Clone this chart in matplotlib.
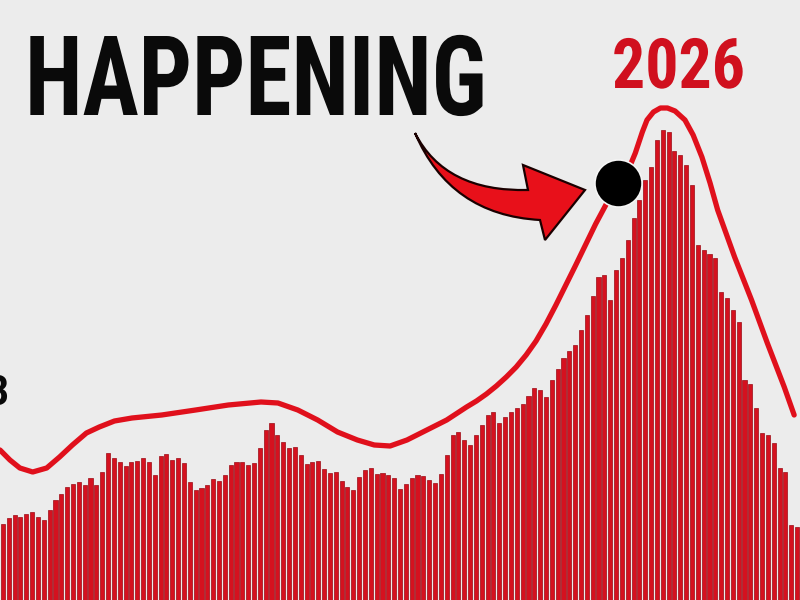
import matplotlib
matplotlib.use("Agg")
import matplotlib.pyplot as plt
from matplotlib import patheffects
from matplotlib.path import Path
from matplotlib.patches import PathPatch
from matplotlib.transforms import Affine2D

# bar heights, one per period
bar_values = [
    76, 82, 85, 83, 86, 88, 83, 80, 90, 100,
    106, 113, 116, 118, 115, 122, 115, 128, 147, 142,
    138, 134, 138, 139, 142, 138, 125, 144, 146, 140,
    142, 137, 118, 110, 112, 115, 121, 119, 125, 135,
    138, 138, 135, 137, 152, 170, 177, 165, 158, 152,
    153, 145, 136, 138, 139, 131, 127, 128, 119, 113,
    110, 123, 130, 132, 126, 127, 125, 122, 111, 116,
    122, 125, 124, 120, 117, 126, 145, 165, 168, 160,
    155, 165, 175, 185, 188, 177, 183, 188, 192, 196,
    204, 212, 210, 203, 220, 231, 242, 249, 255, 270,
    285, 304, 323, 325, 300, 330, 342, 360, 382, 400,
    420, 433, 460, 470, 468, 449, 445, 435, 415, 355,
    350, 346, 342, 308, 302, 290, 278, 220, 216, 192,
    167, 165, 157, 132, 128, 75, 73,
]

# trend curve: positions (in periods) and values
trend_x = [
    -0.5, 1.2, 2.9, 5.1, 7.5, 9.7, 11.9, 14.3, 16.5, 19.1,
    22.1, 27.2, 33.0, 38.6, 44.2, 47.1, 50.5, 53.9, 57.3, 60.7,
    63.6, 66.3, 69.2, 72.6, 76.0, 79.4, 81.1, 82.8, 84.5, 86.2,
    87.9, 89.6, 91.3, 93.0, 94.7, 98.1, 101.5, 103.7, 106.6, 108.3,
    109.5, 110.3, 111.4, 112.6, 113.8, 115.1, 116.8, 118.2, 119.7, 121.1,
    122.4, 125.3, 128.2, 130.9, 133.8, 135.5,
]
trend_y = [
    150, 140, 132, 128, 132, 143, 155, 167, 173, 179,
    182, 185, 190, 195, 198, 197, 190, 180, 168, 160,
    155, 154, 160, 170, 180, 193, 199, 206, 214, 223,
    233, 245, 259, 276, 295, 335, 376, 400, 423, 447,
    468, 480, 488, 492, 492, 489, 480, 465, 443, 417,
    390, 343, 300, 257, 213, 185,
]

marker_x = 105.4
marker_y = 417

title = "HAPPENING"
year = "2026"
left_label = "3"

bg = "#ececec"
red = "#d5111f"


class Squeeze(patheffects.AbstractPathEffect):
    # narrows the glyphs horizontally around x0 (display pixels)
    def __init__(self, sx, x0):
        super().__init__()
        self.sx = sx
        self.x0 = x0

    def draw_path(self, renderer, gc, tpath, affine, rgbFace=None):
        t = affine + Affine2D().translate(-self.x0, 0).scale(self.sx, 1).translate(self.x0, 0)
        renderer.draw_path(gc, tpath, t, rgbFace)


fig = plt.figure(figsize=(8, 6), dpi=100)
fig.patch.set_facecolor(bg)

ax = fig.add_axes([0, 0, 1, 1])
ax.set_facecolor(bg)
n = len(bar_values)
ax.bar(range(n), bar_values, width=0.7, color=red, edgecolor="#9c0a14", linewidth=0.5, zorder=2)
ax.plot(trend_x, trend_y, color="#e0101c", lw=3.8, solid_capstyle="round",
        solid_joinstyle="round", zorder=3)
ax.scatter([marker_x], [marker_y], s=1150, color="black", edgecolor="#f5f5f5",
           linewidth=1.2, zorder=4)
ax.set_xlim(-0.5, n - 0.5)
ax.set_ylim(0, 600)
ax.axis("off")

# overlay in pixel units for the arrow and the big texts
ov = fig.add_axes([0, 0, 1, 1])
ov.set_xlim(0, 800)
ov.set_ylim(600, 0)
ov.axis("off")
ov.patch.set_alpha(0)

verts = [(415, 133), (445, 192), (528, 190), (523, 165), (585, 190),
         (545, 240), (540, 220), (450, 215), (415, 133), (415, 133)]
codes = [Path.MOVETO, Path.CURVE3, Path.CURVE3, Path.LINETO, Path.LINETO,
         Path.LINETO, Path.LINETO, Path.CURVE3, Path.CURVE3, Path.CLOSEPOLY]
ov.add_patch(PathPatch(Path(verts, codes), facecolor="#e8101a", edgecolor="#1a0000",
                       lw=1.6, joinstyle="miter", zorder=5))

fonts = ["Liberation Sans Narrow", "DejaVu Sans Condensed", "Roboto Condensed", "DejaVu Sans"]
t1 = ov.text(25, 115, title, fontsize=80, fontweight="bold", family=fonts,
             color="#0a0a0a", ha="left", va="baseline", zorder=6)
t2 = ov.text(612, 88, year, fontsize=50, fontweight="bold", family=fonts,
             color="#d0101e", ha="left", va="baseline", zorder=6)
# partly outside the frame, as in the source picture
ov.text(9, 405, left_label, fontsize=30, fontweight="bold", family=fonts,
        color="#0a0a0a", ha="right", va="baseline", zorder=6)

fig.canvas.draw()
r = fig.canvas.get_renderer()
w1 = t1.get_window_extent(r).width
w2 = t2.get_window_extent(r).width
t1.set_path_effects([Squeeze(462 / w1, 25)])
t2.set_path_effects([Squeeze(133 / w2, 612)])

fig.savefig("out.png", dpi=100, facecolor=bg)
